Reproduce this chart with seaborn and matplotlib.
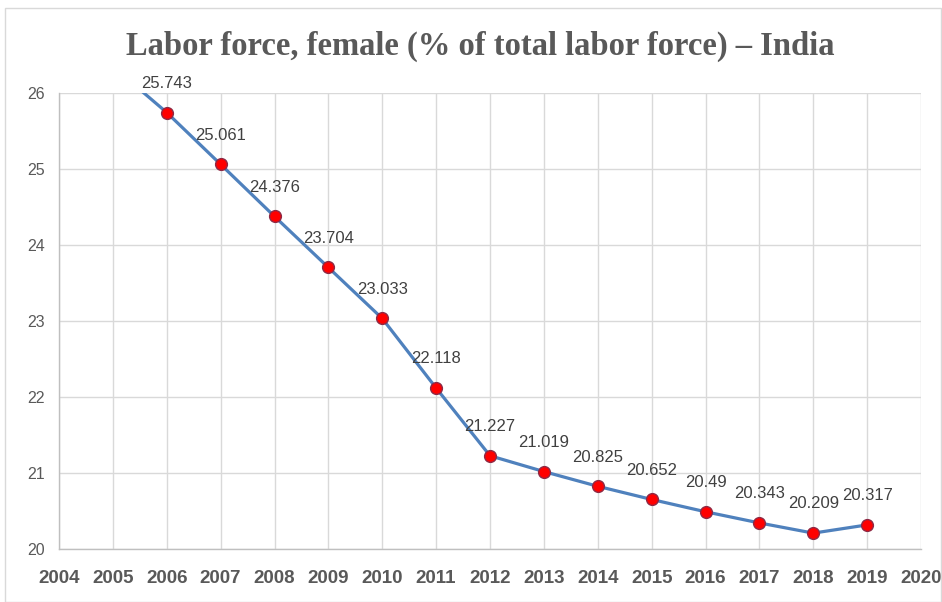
import matplotlib
matplotlib.use("Agg")
import matplotlib.pyplot as plt
import seaborn as sns
import pandas as pd
from matplotlib.patches import Rectangle

# chart data (2005 value sits above the axis top and is clipped, as in the reference)
years = [2005, 2006, 2007, 2008, 2009, 2010, 2011, 2012,
         2013, 2014, 2015, 2016, 2017, 2018, 2019]
female_share = [26.35, 25.743, 25.061, 24.376, 23.704, 23.033, 22.118, 21.227,
                21.019, 20.825, 20.652, 20.49, 20.343, 20.209, 20.317]
x_ticks = list(range(2004, 2021))
y_ticks = [20, 21, 22, 23, 24, 25, 26]
title = "Labor force, female (% of total labor force) \u2013 India"

df = pd.DataFrame({"year": years, "share": female_share})

sns.set_style("white")
plt.rcParams["font.family"] = ["Liberation Sans", "DejaVu Sans"]

grid_c = "#D9D9D9"
text_c = "#595959"

fig = plt.figure(figsize=(9.42, 6.02), dpi=100)
ax = fig.add_axes([59 / 942, 1 - 549 / 602, (921 - 59) / 942, (549 - 93) / 602])

sns.lineplot(data=df, x="year", y="share", ax=ax, color="#4F81BD", linewidth=2.3,
             marker="o", markersize=8.5, markerfacecolor="#FF0000",
             markeredgecolor="#8E2A45", markeredgewidth=1.0, zorder=3)

ax.set_xlim(2004, 2020)
ax.set_ylim(20, 26)
ax.set_xticks(x_ticks)
ax.set_yticks(y_ticks)
ax.set_xticklabels([str(t) for t in x_ticks], fontsize=13.5, fontweight="bold", color=text_c)
ax.set_yticklabels([str(t) for t in y_ticks], fontsize=11.5, color=text_c)
ax.set_xlabel("")
ax.set_ylabel("")
ax.grid(True, color=grid_c, linewidth=1.0)
ax.set_axisbelow(True)

for side in ["top", "right"]:
    ax.spines[side].set_visible(False)
for side in ["left", "bottom"]:
    ax.spines[side].set_color("#BFBFBF")
    ax.spines[side].set_linewidth(1.0)
ax.tick_params(axis="both", direction="out", length=4, color="#BFBFBF", width=1.0)
ax.tick_params(axis="x", pad=11)
ax.tick_params(axis="y", pad=6)

# value labels above each visible point
for yr, v in zip(years, female_share):
    if v <= 26:
        ax.annotate(f"{v:g}", (yr, v), xytext=(0, 21), textcoords="offset points",
                    ha="center", va="center", fontsize=12, color="#404040")

fig.text(480 / 942, 1 - 46 / 602, title, ha="center", va="center",
         fontsize=23.5, fontweight="bold", color=text_c,
         family=["Liberation Serif", "DejaVu Serif"])

# light chart-area border
fig.patches.append(Rectangle((5 / 942, 0), 936 / 942, 1 - 8 / 602, transform=fig.transFigure,
                             fill=False, edgecolor="#D9D9D9", linewidth=1.0))

fig.savefig("out.png", dpi=100)
